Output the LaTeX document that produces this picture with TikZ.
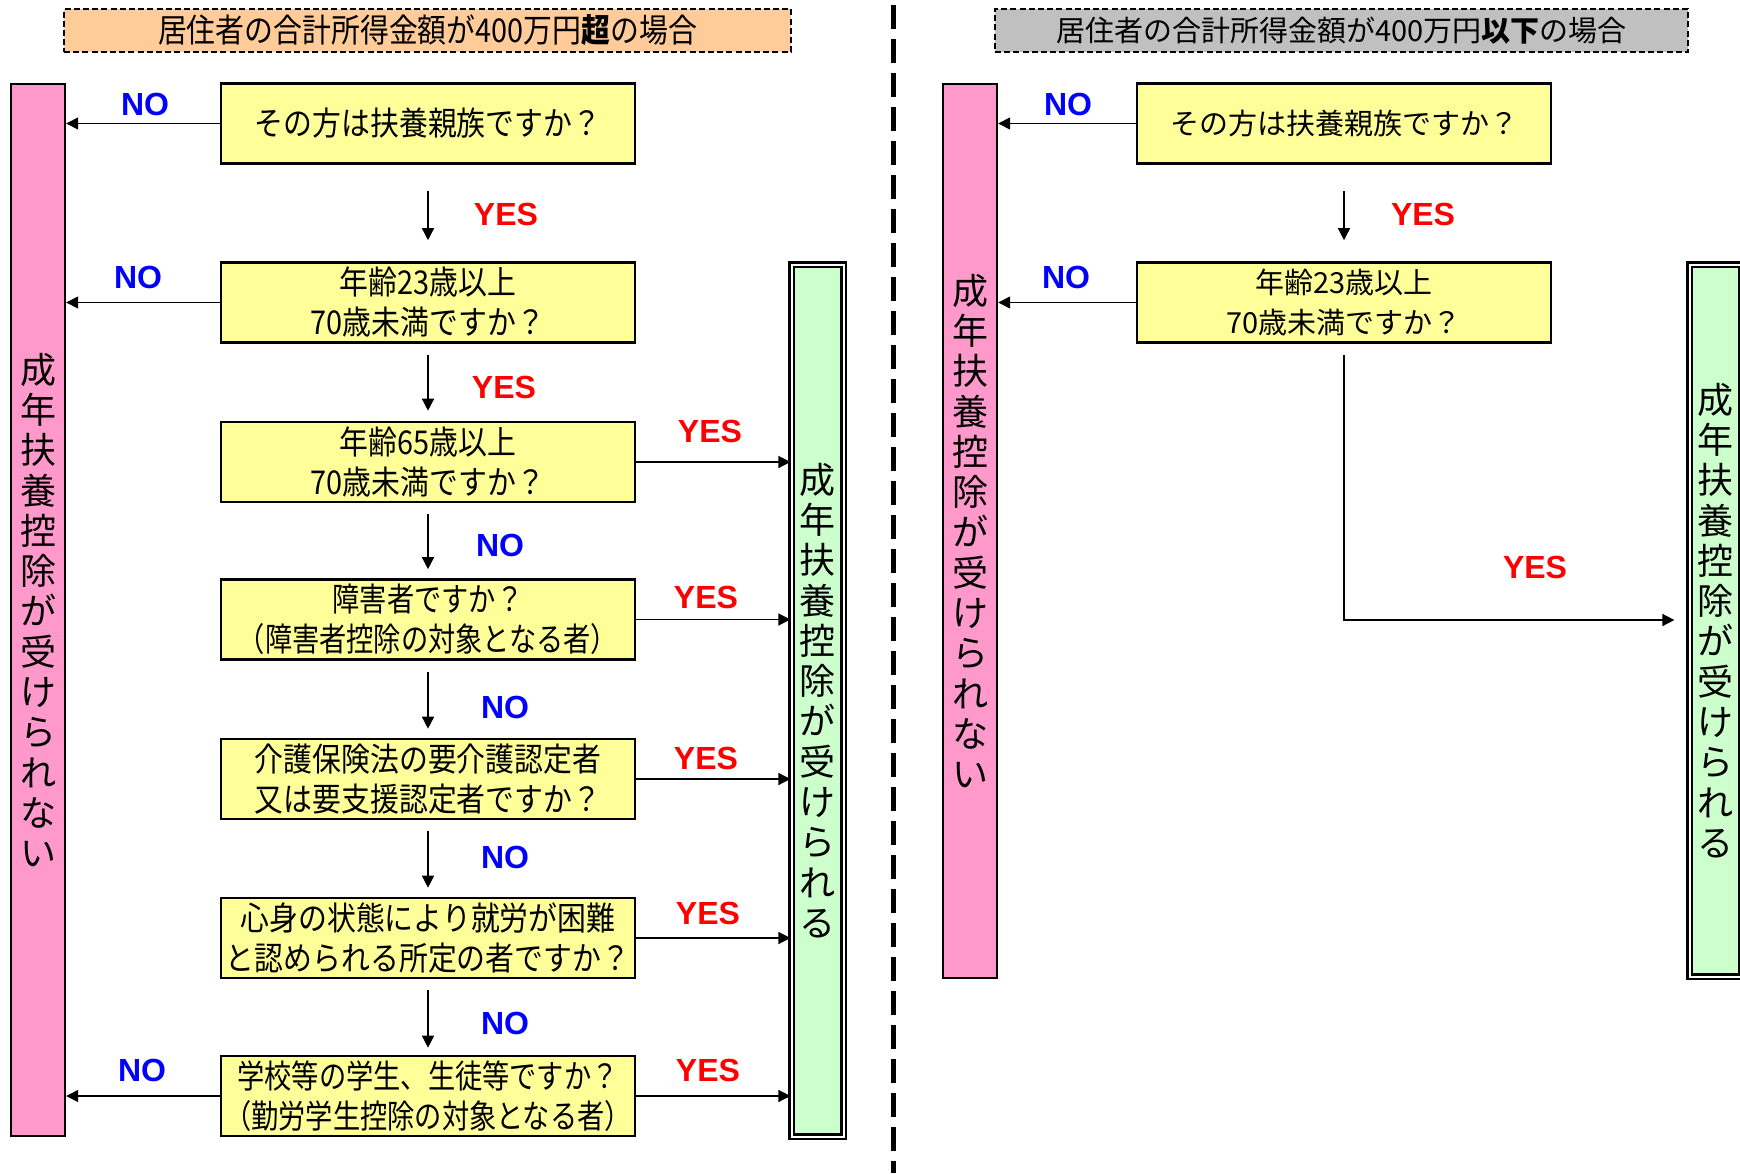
\documentclass[tikz,border=0pt]{standalone}
\usepackage{fontspec}
\usetikzlibrary{arrows.meta}
\newfontfamily\jp{Noto Sans CJK JP}
\newfontfamily\jpc[FakeStretch=0.88]{Noto Sans CJK JP}
\newfontfamily\jpn[FakeStretch=0.83]{Noto Sans CJK JP}
\newfontfamily\labfont{Liberation Sans}
\definecolor{pinkc}{HTML}{FF99CC}
\definecolor{greenc}{HTML}{CCFFCC}
\definecolor{yellowc}{HTML}{FFFF99}
\definecolor{orangec}{HTML}{FFCC99}
\definecolor{greyc}{HTML}{C0C0C0}
\begin{document}
\begin{tikzpicture}[x=0.5pt,y=-0.5pt,
  qbox/.style={draw, line width=1.3pt, fill=yellowc, minimum width=207pt, minimum height=40pt, inner sep=0pt, align=center},
  lq/.style={qbox, font=\jpc\fontsize{16.4}{20}\selectfont},
  lqn/.style={qbox, font=\jpn\fontsize{16.4}{20}\selectfont},
  rq/.style={qbox, font=\jp\fontsize{14.5}{20}\selectfont},
  pinkbar/.style={draw, line width=1.2pt, fill=pinkc, minimum width=27pt, inner sep=0pt, align=center, font=\jp\fontsize{18}{20.15}\selectfont},
  greenbar/.style={draw, line width=1.1pt, double=white, double distance=1pt, fill=greenc, minimum width=26pt, inner sep=0pt, align=center, font=\jp\fontsize{18}{20.15}\selectfont},
  tbox/.style={draw, line width=1pt, dash pattern=on 3pt off 1.6pt, minimum height=21.5pt, inner sep=0pt},
  arr/.style={line width=0.75pt, -{Triangle[length=6pt,width=6pt]}},
  lab/.style={font=\labfont\bfseries\fontsize{16}{16}\selectfont, inner sep=0pt},
  nolab/.style={lab, text=blue},
  yeslab/.style={lab, text=red}]
\useasboundingbox (0,0) rectangle (1740,1173);
\fill[white] (0,0) rectangle (1740,1173);

% titles
\node[tbox, fill=orangec, minimum width=363.5pt, font=\jpc\fontsize{16.4}{18}\selectfont] (T1) at (427.5,30.5) {居住者の合計所得金額が400万円\textbf{超}の場合};
\node[tbox, fill=greyc, minimum width=346.5pt, font=\jp\fontsize{14.5}{18}\selectfont] (T2) at (1341.5,30.5) {居住者の合計所得金額が400万円\textbf{以下}の場合};

% divider
\coordinate (d1) at (893,5);
\coordinate (d2) at (893,1173);
\draw[line width=2.5pt, dash pattern=on 12pt off 5pt] (d1) -- (d2);

% left side
\node[pinkbar, minimum height=526pt] (LP) at (38,610) {成\\年\\扶\\養\\控\\除\\が\\受\\け\\ら\\れ\\な\\い};
\node[greenbar, minimum height=436pt] (LG) at (817.5,700.5) {成\\年\\扶\\養\\控\\除\\が\\受\\け\\ら\\れ\\る};

\node[lq] (L1) at (428,123.5) {その方は扶養親族ですか？};
\node[lq] (L2) at (428,302.5) {年齢23歳以上\\70歳未満ですか？};
\node[lq] (L3) at (428,462) {年齢65歳以上\\70歳未満ですか？};
\node[lqn] (L4) at (428,619.5) {障害者ですか？\\（障害者控除の対象となる者）};
\node[lq] (L5) at (428,779) {介護保険法の要介護認定者\\又は要支援認定者ですか？};
\node[lq] (L6) at (428,938) {心身の状態により就労が困難\\と認められる所定の者ですか？};
\node[lqn] (L7) at (428,1096) {学校等の学生、生徒等ですか？\\（勤労学生控除の対象となる者）};

\draw[arr] (L1.west) -- (LP.east |- L1.west);
\draw[arr, shorten <=13pt, shorten >=10.5pt] (L1.south) -- (L2.north);
\draw[arr] (L2.west) -- (LP.east |- L2.west);
\draw[arr, shorten <=5.5pt, shorten >=5pt] (L2.south) -- (L3.north);
\draw[arr] (L3.east) -- (LG.west |- L3.east);
\draw[arr, shorten <=5.5pt, shorten >=4.5pt] (L3.south) -- (L4.north);
\draw[arr] (L4.east) -- (LG.west |- L4.east);
\draw[arr, shorten <=5.5pt, shorten >=4.5pt] (L4.south) -- (L5.north);
\draw[arr] (L5.east) -- (LG.west |- L5.east);
\draw[arr, shorten <=5.5pt, shorten >=4.5pt] (L5.south) -- (L6.north);
\draw[arr] (L6.east) -- (LG.west |- L6.east);
\draw[arr, shorten <=5.5pt, shorten >=3.5pt] (L6.south) -- (L7.north);
\draw[arr] (L7.east) -- (LG.west |- L7.east);
\draw[arr] (L7.west) -- (LP.east |- L7.west);

\node[nolab] (n1) at (145,104) {NO};
\node[yeslab] (y1) at (506,214) {YES};
\node[nolab] (n2) at (138,277) {NO};
\node[yeslab] (y2) at (504,387) {YES};
\node[yeslab] (y3) at (710,431) {YES};
\node[nolab] (n3) at (500,545) {NO};
\node[yeslab] (y4) at (706,597) {YES};
\node[nolab] (n4) at (505,707) {NO};
\node[yeslab] (y5) at (706,758) {YES};
\node[nolab] (n5) at (505,857) {NO};
\node[yeslab] (y6) at (708,913) {YES};
\node[nolab] (n6) at (505,1023) {NO};
\node[yeslab] (y7) at (708,1070) {YES};
\node[nolab] (n7) at (142,1070) {NO};

% right side
\node[pinkbar, minimum height=447pt] (RP) at (970,531) {成\\年\\扶\\養\\控\\除\\が\\受\\け\\ら\\れ\\な\\い};
\node[greenbar, minimum height=356pt] (RG) at (1715.5,620.5) {成\\年\\扶\\養\\控\\除\\が\\受\\け\\ら\\れ\\る};
\node[rq] (R1) at (1344,123.5) {その方は扶養親族ですか？};
\node[rq] (R2) at (1344,302.5) {年齢23歳以上\\70歳未満ですか？};

\coordinate (ry) at (1345,620);
\draw[arr] (R1.west) -- (RP.east |- R1.west);
\draw[arr, shorten <=13pt, shorten >=10.5pt] (R1.south) -- (R2.north);
\draw[arr] (R2.west) -- (RP.east |- R2.west);
\draw[arr, shorten <=5.5pt, shorten >=7pt] (R2.south) |- (RG.west |- ry);

\node[nolab] (rn1) at (1068,104) {NO};
\node[yeslab] (ry1) at (1423,214) {YES};
\node[nolab] (rn2) at (1066,277) {NO};
\node[yeslab] (ry2) at (1535,567) {YES};
\end{tikzpicture}
\end{document}
